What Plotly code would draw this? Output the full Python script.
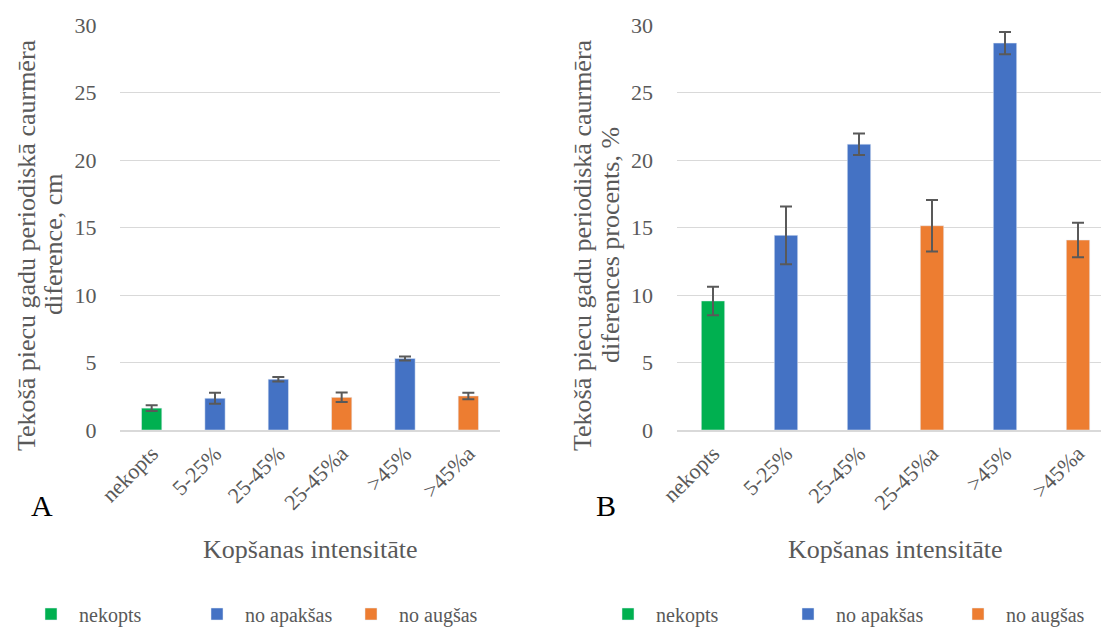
import plotly.graph_objects as go

# ---- data ----
categories = ["nekopts", "5-25%", "25-45%", "25-45%a", ">45%", ">45%a"]
category_group = ["nekopts", "no apakšas", "no apakšas", "no augšas", "no apakšas", "no augšas"]
diff_cm = [1.62, 2.35, 3.76, 2.42, 5.30, 2.52]
diff_cm_err = [0.21, 0.41, 0.16, 0.35, 0.15, 0.24]
diff_pct = [9.56, 14.42, 21.17, 15.13, 28.66, 14.07]
diff_pct_err = [1.06, 2.14, 0.80, 1.90, 0.83, 1.28]
group_names = ["nekopts", "no apakšas", "no augšas"]
group_colors = ["#00B050", "#4472C4", "#ED7D31"]
y_ticks = [0, 5, 10, 15, 20, 25, 30]

FONT = "Liberation Serif"
GRAY = "#595959"
GRID = "#D9D9D9"
W, H = 1101, 627

fig = go.Figure()

legend_ids = [["legend", "legend2", "legend3"], ["legend4", "legend5", "legend6"]]
panels = [(diff_cm, diff_cm_err, "x", "y"), (diff_pct, diff_pct_err, "x2", "y2")]
for p, (vals, errs, xa, ya) in enumerate(panels):
    for g, (gname, gcol) in enumerate(zip(group_names, group_colors)):
        idx = [i for i, cg in enumerate(category_group) if cg == gname]
        fig.add_trace(go.Bar(
            x=[categories[i] for i in idx],
            y=[vals[i] for i in idx],
            error_y=dict(type="data", array=[errs[i] for i in idx],
                         color=GRAY, thickness=2, width=6),
            marker=dict(color=gcol),
            width=0.32,
            name=gname,
            xaxis=xa, yaxis=ya,
            legend=legend_ids[p][g],
            showlegend=True,
        ))

ydom = [197 / H, 602 / H]
xaxis_common = dict(type="category", categoryorder="array", categoryarray=categories,
                    tickangle=-45, tickfont=dict(family=FONT, size=22, color=GRAY),
                    showline=True, linecolor=GRID, linewidth=2, showgrid=False,
                    zeroline=False, ticks="", automargin=False)
yaxis_common = dict(range=[0, 30], tickvals=y_ticks, showgrid=True, gridcolor=GRID,
                    gridwidth=1, showline=False, zeroline=False,
                    ticks="outside", ticklen=18, tickcolor="rgba(0,0,0,0)",
                    tickfont=dict(family=FONT, size=22, color=GRAY), domain=ydom,
                    automargin=False)

fig.update_layout(
    width=W, height=H, autosize=False,
    margin=dict(l=0, r=0, t=0, b=0, autoexpand=False),
    paper_bgcolor="white", plot_bgcolor="white",
    font=dict(family=FONT, color=GRAY),
    barmode="overlay",
    xaxis=dict(domain=[120 / W, 500 / W], range=[-0.5, 5.5], anchor="y", **xaxis_common),
    yaxis=dict(anchor="x", **yaxis_common),
    xaxis2=dict(domain=[676.5 / W, 1.0], range=[-0.5, 5.315], anchor="y2", **xaxis_common),
    yaxis2=dict(anchor="x2", **yaxis_common),
)

# legends: one per entry so spacing matches
text_starts = [85, 251, 405, 662, 842, 1012]
all_leg = legend_ids[0] + legend_ids[1]
for lid, tx in zip(all_leg, text_starts):
    fig.update_layout({lid: dict(
        orientation="h", x=(tx - 62) / W, y=(H - 614) / H,
        xanchor="left", yanchor="middle", itemwidth=46,
        bgcolor="rgba(0,0,0,0)", borderwidth=0,
        font=dict(family=FONT, size=20, color=GRAY))})

ann = []
# y-axis titles (two lines each)
ytitles = [
    ("Tekošā piecu gadu periodiskā caurmēra", 26),
    ("diference, cm", 53),
    ("Tekošā piecu gadu periodiskā caurmēra", 582),
    ("diferences procents, %", 610),
]
for txt, xc in ytitles:
    ann.append(dict(text=txt, x=xc / W, y=(H - 245) / H, xref="paper", yref="paper",
                    xanchor="center", yanchor="middle", textangle=-90, showarrow=False,
                    font=dict(family=FONT, size=26, color=GRAY)))
for xc in (310, 895):
    ann.append(dict(text="Kopšanas intensitāte", x=xc / W, y=(H - 549) / H,
                    xref="paper", yref="paper", xanchor="center", yanchor="middle",
                    showarrow=False, font=dict(family=FONT, size=26, color=GRAY)))
for txt, xc in (("A", 42), ("B", 606)):
    ann.append(dict(text=txt, x=xc / W, y=(H - 505) / H, xref="paper", yref="paper",
                    xanchor="center", yanchor="middle", showarrow=False,
                    font=dict(family=FONT, size=30, color="black")))
fig.update_layout(annotations=ann)

fig.write_html("out.html")
